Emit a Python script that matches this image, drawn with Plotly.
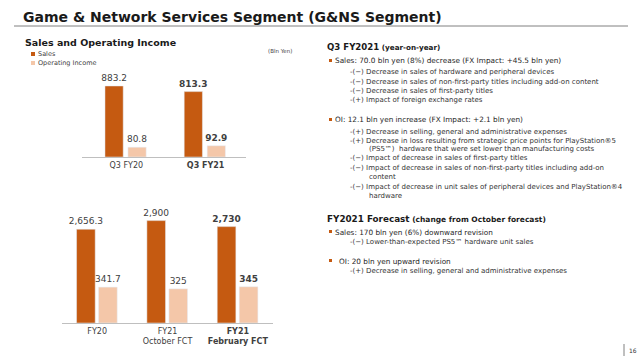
import plotly.graph_objects as go

# ---------------- data ----------------
top_categories = ["Q3 FY20", "Q3 FY21"]
top_sales = [883.2, 813.3]
top_oi = [80.8, 92.9]
top_sales_labels = ["883.2", "813.3"]
top_oi_labels = ["80.8", "92.9"]

bottom_categories = ["FY20", "FY21<br>October FCT", "FY21<br>February FCT"]
bottom_sales = [2656.3, 2900, 2730]
bottom_oi = [341.7, 325, 345]
bottom_sales_labels = ["2,656.3", "2,900", "2,730"]
bottom_oi_labels = ["341.7", "325", "345"]

SALES_COLOR = "#C55A11"
OI_COLOR = "#F4C7A9"
TXT = "#404040"
FONT = "DejaVu Sans"

W, H = 640, 358


def bold_last(labels):
    return [l if i < len(labels) - 1 else f"<b>{l}</b>" for i, l in enumerate(labels)]


fig = go.Figure()

# top chart
fig.add_trace(go.Bar(x=top_categories, y=top_sales, name="Sales", marker_color=SALES_COLOR,
                     width=0.23, offset=-0.27, text=bold_last(top_sales_labels),
                     textposition="outside", constraintext="none", cliponaxis=False,
                     textfont=dict(size=9, color=TXT, family=FONT),
                     xaxis="x", yaxis="y", showlegend=False))
fig.add_trace(go.Bar(x=top_categories, y=top_oi, name="Operating Income", marker_color=OI_COLOR,
                     width=0.23, offset=0.02, text=bold_last(top_oi_labels),
                     textposition="outside", constraintext="none", cliponaxis=False,
                     textfont=dict(size=9, color=TXT, family=FONT),
                     xaxis="x", yaxis="y3", showlegend=False))
# bottom chart
fig.add_trace(go.Bar(x=bottom_categories, y=bottom_sales, name="Sales", marker_color=SALES_COLOR,
                     width=0.265, offset=-0.293, text=bold_last(bottom_sales_labels),
                     textposition="outside", constraintext="none", cliponaxis=False,
                     textfont=dict(size=9, color=TXT, family=FONT),
                     xaxis="x2", yaxis="y2", showlegend=False))
fig.add_trace(go.Bar(x=bottom_categories, y=bottom_oi, name="Operating Income", marker_color=OI_COLOR,
                     width=0.265, offset=0.02, text=bold_last(bottom_oi_labels),
                     textposition="outside", constraintext="none", cliponaxis=False,
                     textfont=dict(size=9, color=TXT, family=FONT),
                     xaxis="x2", yaxis="y4", showlegend=False))


def px_x(x):
    return x / W


def px_y(y):
    return 1 - y / H


axis_common = dict(showgrid=False, zeroline=False, ticks="", showline=True,
                   linecolor="#BFBFBF", linewidth=1,
                   tickfont=dict(size=8, color=TXT, family=FONT), fixedrange=True)

fig.update_layout(
    width=W, height=H, autosize=False,
    margin=dict(l=0, r=0, t=0, b=0),
    paper_bgcolor="white", plot_bgcolor="rgba(0,0,0,0)",
    barmode="overlay",
    font=dict(family=FONT, color=TXT),
    xaxis=dict(domain=[px_x(82), px_x(246)], anchor="y", type="category",
               range=[-0.56, 1.51], tickvals=top_categories,
               ticktext=bold_last(top_categories), **axis_common),
    yaxis=dict(domain=[px_y(157), px_y(70)], range=[0, 1082], visible=False),
    yaxis3=dict(overlaying="y", range=[0, 719], visible=False),
    xaxis2=dict(domain=[px_x(62), px_x(273)], anchor="y2", type="category",
                range=[-0.5, 2.5], tickvals=bottom_categories,
                ticktext=bold_last(bottom_categories), **axis_common),
    yaxis2=dict(domain=[px_y(323), px_y(200)], range=[0, 3484], visible=False),
    yaxis4=dict(overlaying="y2", range=[0, 1171], visible=False),
)

annotations = []
shapes = []


def ann(x, y, text, size, color="#262626", xanchor="left"):
    annotations.append(dict(xref="paper", yref="paper", x=px_x(x), y=px_y(y), text=text,
                            showarrow=False, xanchor=xanchor, yanchor="middle",
                            font=dict(size=size, color=color, family=FONT)))


def rect(x0, y0, x1, y1, color):
    shapes.append(dict(type="rect", xref="paper", yref="paper", x0=px_x(x0), x1=px_x(x1),
                       y0=px_y(y1), y1=px_y(y0), fillcolor=color, line=dict(width=0)))


# Title and underline
ann(21, 17, "<b>Game & Network Services Segment (G&NS Segment)</b>", 14, color="#1a1a1a")
shapes.append(dict(type="line", xref="paper", yref="paper", x0=px_x(14), x1=px_x(628),
                   y0=px_y(26), y1=px_y(26), line=dict(color="#808080", width=1)))

# Left subtitle, legend, unit
ann(23, 42, "<b>Sales and Operating Income</b>", 9.5, color="#1a1a1a")
rect(31, 52, 35, 56, SALES_COLOR)
ann(36, 54, "Sales", 6.5, color=TXT)
rect(31, 61, 35, 65, OI_COLOR)
ann(36, 63, "Operating Income", 6.5, color=TXT)
ann(266, 51, "(Bln Yen)", 5.5, color=TXT)

# Right panel text
HEAD = "#1a1a1a"
SUB = 7.0
MAIN = 7.3
SUBX = 348
CONTX = 367
ann(325, 47, "<b>Q3 FY2021</b><b><span style='font-size:7.2px'> (year-on-year)</span></b>", 8.6, color=HEAD)
rect(329, 59, 332, 62, SALES_COLOR)
ann(333, 61, "Sales: 70.0 bln yen (8%) decrease (FX Impact: +45.5 bln yen)", MAIN, color="#262626")
sub_lines_1 = [
    (72, SUBX, "-(−) Decrease in sales of hardware and peripheral devices"),
    (82, SUBX, "-(−) Decrease in sales of non-first-party titles including add-on content"),
    (91, SUBX, "-(−) Decrease in sales of first-party titles"),
    (100, SUBX, "-(+) Impact of foreign exchange rates"),
]
for y, x, t in sub_lines_1:
    ann(x, y, t, SUB, color="#333333")

rect(329, 118, 332, 121, SALES_COLOR)
ann(333, 120, "OI: 12.1 bln yen increase (FX Impact: +2.1 bln yen)", MAIN, color="#262626")
sub_lines_2 = [
    (132, SUBX, "-(+) Decrease in selling, general and administrative expenses"),
    (141, SUBX, "-(+) Decrease in loss resulting from strategic price points for PlayStation®5"),
    (149, CONTX, "(PS5™)  hardware that were set lower than manufacturing costs"),
    (158, SUBX, "-(−) Impact of decrease in sales of first-party titles"),
    (168, SUBX, "-(−) Impact of decrease in sales of non-first-party titles including add-on"),
    (177, CONTX, "content"),
    (187, SUBX, "-(−) Impact of decrease in unit sales of peripheral devices and PlayStation®4"),
    (196, CONTX, "hardware"),
]
for y, x, t in sub_lines_2:
    ann(x, y, t, SUB, color="#333333")

ann(325, 219, "<b>FY2021 Forecast</b><b><span style='font-size:7.5px'> (change from October forecast)</span></b>", 8.8, color=HEAD)
rect(329, 230, 332, 233, SALES_COLOR)
ann(333, 232, "Sales: 170 bln yen (6%) downward revision", MAIN, color="#262626")
ann(SUBX, 242, "-(−) Lower-than-expected PS5™ hardware unit sales", SUB, color="#333333")
rect(329, 259, 332, 262, SALES_COLOR)
ann(337, 261, "OI: 20 bln yen upward revision", MAIN, color="#262626")
ann(SUBX, 271, "-(+) Decrease in selling, general and administrative expenses", SUB, color="#333333")

# page number
shapes.append(dict(type="line", xref="paper", yref="paper", x0=px_x(624), x1=px_x(624),
                   y0=px_y(356), y1=px_y(344), line=dict(color="#808080", width=1)))
ann(627, 350, "16", 6, color="#333333")

fig.update_layout(annotations=annotations, shapes=shapes)

fig.write_html("out.html", config={"displayModeBar": False},
               post_script="document.body.style.margin='0';document.body.style.padding='0';")
